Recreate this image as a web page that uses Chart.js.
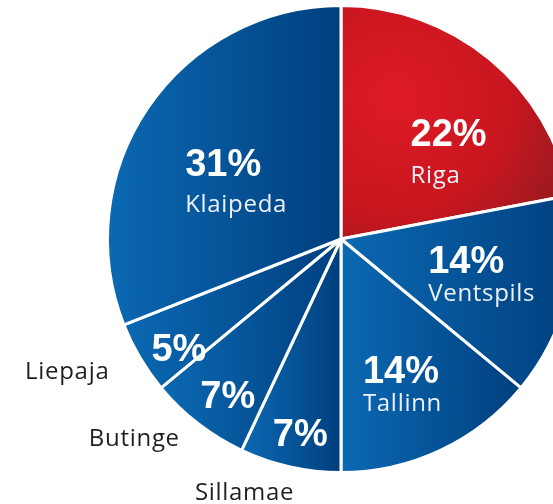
<!DOCTYPE html>
<html>
<head>
<meta charset="utf-8">
<script src="https://cdn.jsdelivr.net/npm/chart.js@4.4.1/dist/chart.umd.min.js"></script>
<style>
  html, body { margin: 0; padding: 0; background: #fff; overflow: hidden; }
  #wrap { position: relative; width: 553px; height: 504px; overflow: hidden; }
  #pie { position: absolute; left: 0; top: 0; }
</style>
</head>
<body>
<div id="wrap"><canvas id="pie" width="682" height="504"></canvas></div>
<script>
const ports = ['Riga', 'Ventspils', 'Tallinn', 'Sillamae', 'Butinge', 'Liepaja', 'Klaipeda'];
const shares = [22, 14, 14, 7, 7, 5, 31];
const nameInside = [true, true, true, false, false, false, true];

// where each label sits, relative to its slice (radius fraction, angle nudge in degrees)
const labelLayout = [
    { r: 0.608, da: 9.7, gap: 37 },
    { r: 0.556, da: 0.9, gap: 28 },
    { r: 0.668, da: 2.6, gap: 28 },
    { r: 0.905, da: -1.5, nr: 1.19, nda: 7.7 },
    { r: 0.872, da: -4.0, nr: 1.254, nda: 7.1 },
    { r: 0.868, da: -6.3, nr: 1.317, nda: 3.5 },
    { r: 0.573, da: -5.9, gap: 36 }
];

const pctFont = 'bold 38px "Liberation Sans", Arial, sans-serif';
const nameFont = '400 24px "Open Sans", sans-serif';

function sliceAngles(i) {
    const total = shares.reduce((a, b) => a + b, 0);
    let cum = 0;
    for (let k = 0; k < i; k++) cum += shares[k];
    const start = -Math.PI / 2 + 2 * Math.PI * cum / total;
    const end = start + 2 * Math.PI * shares[i] / total;
    return [start, end];
}

function sliceFill(context) {
    const i = context.dataIndex;
    const chart = context.chart;
    const area = chart.chartArea;
    const red = i === 0;
    if (i === undefined || !area) return red ? '#c8161f' : '#0556a0';
    const ctx = chart.ctx;
    const cx = (area.left + area.right) / 2;
    const cy = (area.top + area.bottom) / 2;
    const R = Math.min(area.width, area.height) / 2;

    if (red) {
        const g = ctx.createRadialGradient(cx + 0.23 * R, cy - 0.6 * R, 0, cx + 0.23 * R, cy - 0.6 * R, 0.9 * R);
        g.addColorStop(0, '#de1b25');
        g.addColorStop(0.55, '#c8161f');
        g.addColorStop(1, '#8a1b1f');
        return g;
    }

    const [a0, a1] = sliceAngles(i);
    let minX = cx, maxX = cx;
    for (let s = 0; s <= 20; s++) {
        const a = a0 + (a1 - a0) * s / 20;
        const x = cx + R * Math.cos(a);
        minX = Math.min(minX, x);
        maxX = Math.max(maxX, x);
    }
    const g = ctx.createLinearGradient(minX, cy, maxX, cy);
    g.addColorStop(0, '#0b69b3');
    g.addColorStop(1, '#003f7e');
    return g;
}

const labelPlugin = {
    id: 'portLabels',
    afterDatasetsDraw(chart) {
        const ctx = chart.ctx;
        const arcs = chart.getDatasetMeta(0).data;
        ctx.save();
        arcs.forEach((arc, i) => {
            const L = labelLayout[i];
            const R = arc.outerRadius;
            const mid = (arc.startAngle + arc.endAngle) / 2;
            const a = mid + L.da * Math.PI / 180;
            const px = arc.x + L.r * R * Math.cos(a);
            const py = arc.y + L.r * R * Math.sin(a);
            const pct = shares[i] + '%';

            ctx.font = pctFont;
            ctx.letterSpacing = '0px';
            ctx.fillStyle = '#ffffff';
            ctx.textBaseline = 'alphabetic';
            const w = ctx.measureText(pct).width;
            ctx.textAlign = 'left';
            ctx.fillText(pct, px - w / 2, py);

            ctx.font = nameFont;
            ctx.letterSpacing = '0.7px';
            if (nameInside[i]) {
                ctx.fillStyle = '#eef2f8';
                ctx.fillText(ports[i], px - w / 2, py + L.gap);
            } else {
                const na = mid + L.nda * Math.PI / 180;
                const nx = arc.x + L.nr * R * Math.cos(na);
                const ny = arc.y + L.nr * R * Math.sin(na);
                ctx.fillStyle = '#231f20';
                ctx.textAlign = 'center';
                ctx.fillText(ports[i], nx, ny);
            }
        });
        ctx.restore();
    }
};

new Chart(document.getElementById('pie'), {
    type: 'pie',
    data: {
        labels: ports,
        datasets: [{
            data: shares,
            backgroundColor: sliceFill,
            borderColor: '#ffffff',
            borderWidth: 3
        }]
    },
    options: {
        responsive: false,
        animation: false,
        layout: { padding: { top: 4, left: 4, right: 4, bottom: 30 } },
        plugins: {
            legend: { display: false },
            tooltip: { enabled: false }
        }
    },
    plugins: [labelPlugin]
});
</script>
</body>
</html>
